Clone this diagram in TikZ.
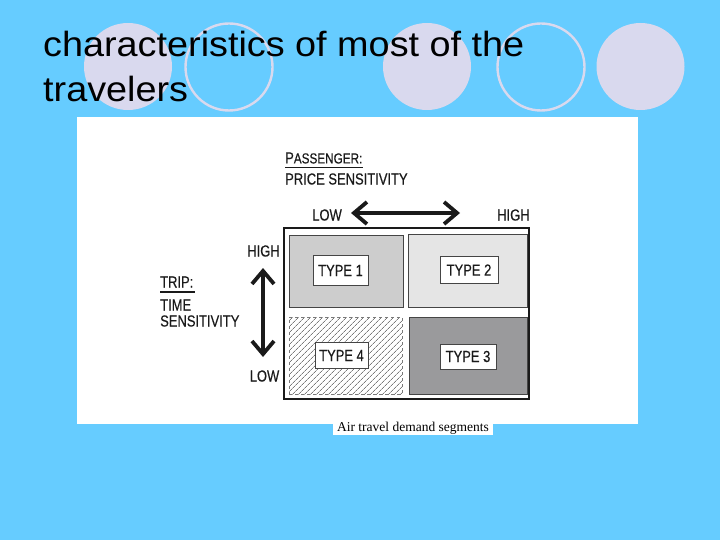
\documentclass[tikz,border=0pt]{standalone}
\usepackage{fontspec}
\setmainfont{Liberation Sans}
\newfontfamily\titlefont[FakeStretch=1.08]{Liberation Sans}
\newfontfamily\chartfont[FakeStretch=0.81,FakeBold=0.35]{Liberation Sans}
\newfontfamily\capfont{Liberation Serif}
\usetikzlibrary{arrows.meta,patterns.meta}
\definecolor{slide}{HTML}{66CCFF}
\definecolor{disc}{HTML}{D9D9EE}
\definecolor{ink}{HTML}{1A1A1A}
\definecolor{edge}{HTML}{454545}
\definecolor{typeone}{HTML}{CDCDCD}
\definecolor{typetwo}{HTML}{E5E5E5}
\definecolor{typethree}{HTML}{9A9A9C}
\definecolor{hatch}{HTML}{7A7A7A}

\begin{document}
\begin{tikzpicture}[x=1pt,y=-1pt,
  heading/.style={text=black,font=\titlefont\fontsize{35}{40}\selectfont,anchor=base west,inner sep=0pt},
  axis/.style={text=ink,font=\chartfont\fontsize{16}{18}\selectfont,inner sep=0pt},
  cell/.style={draw=edge,line width=.8pt,inner sep=0pt},
  tag/.style={draw=edge,fill=white,line width=.8pt,inner sep=0pt,text=ink,
    font=\chartfont\fontsize{16}{18}\selectfont},
  bigarrow/.style={draw=ink,line width=3.8pt,-{Straight Barb[length=13pt,width=22pt]}}
]
\useasboundingbox (0,0) rectangle (720,540);
\fill[slide] (0,0) rectangle (720,540);
% decorative discs of the slide
\foreach \cx in {128,427,640.5}
  \fill[disc] (\cx,66.5) ellipse (44 and 43.5);
\foreach \cx in {229,541}
  \draw[disc,line width=2.4pt] (\cx,67) ellipse (43.5 and 43.5);
\node[heading] (title1) at (43,57) {characteristics of most of the};
\node[heading] (title2) at (43,102) {travelers};
% picture panel
\fill[white] (77,117) rectangle (638,424);
\node[axis,anchor=west] (passenger) at (285,158) {P{\fontsize{14.5}{18}\selectfont ASSENGER:}};
\draw[ink,line width=1pt] ([yshift=-3.5]passenger.south west)--([yshift=-3.5]passenger.south east);
\node[axis,anchor=west] (price) at (285,179) {PRICE SENSITIVITY};
\node[axis,anchor=east] (plow) at (342,215) {LOW};
\node[axis,anchor=west] (phigh) at (497,215) {HIGH};
\coordinate (pmid) at (405,213);
\coordinate (pleft) at (351,213);
\coordinate (pright) at (460,213);
\draw[bigarrow] (pmid)--(pleft);
\draw[bigarrow] (pmid)--(pright);
\node[axis,anchor=west] (trip) at (160,282) {TRIP:};
\draw[ink,line width=1.8pt] (160,292)--(195,292);
\node[axis,anchor=west] (time) at (160,305) {TIME};
\node[axis,anchor=west] (sens) at (160,321) {SENSITIVITY};
\node[axis] (thigh) at (263.5,251) {HIGH};
\node[axis] (tlow) at (264.5,376) {LOW};
\coordinate (tmid) at (263,315);
\coordinate (tup) at (263,268);
\coordinate (tdown) at (263,357);
\draw[bigarrow] (tmid)--(tup);
\draw[bigarrow] (tmid)--(tdown);
% the four segments
\node[cell,draw=ink,line width=1.5pt,minimum width=245,minimum height=171] (grid) at (406.5,313.5) {};
\node[cell,fill=typeone,minimum width=114,minimum height=72] (cellone) at (346,271) {};
\node[cell,fill=typetwo,minimum width=119,minimum height=73] (celltwo) at (467.5,270.5) {};
\node[cell,pattern={Lines[angle=45,distance=4pt,line width=.75pt]},pattern color=hatch,
  draw=hatch,dashed,minimum width=113,minimum height=77] (cellfour) at (345.5,355.5) {};
\node[cell,fill=typethree,minimum width=118,minimum height=77] (cellthree) at (468,355.5) {};
\node[tag,minimum width=55,minimum height=30] (typeone) at (340.5,270.5) {TYPE 1};
\node[tag,minimum width=58,minimum height=27] (typetwo) at (469,270) {TYPE 2};
\node[tag,minimum width=53,minimum height=26] (typefour) at (341.5,355.5) {TYPE 4};
\node[tag,minimum width=56,minimum height=25] (typethree) at (468,356.5) {TYPE 3};
\node[fill=white,minimum width=160,minimum height=13,inner sep=0pt,text=black,
  font=\capfont\fontsize{13.5}{14}\selectfont] (caption) at (413,428) {Air travel demand segments};
\end{tikzpicture}
\end{document}
